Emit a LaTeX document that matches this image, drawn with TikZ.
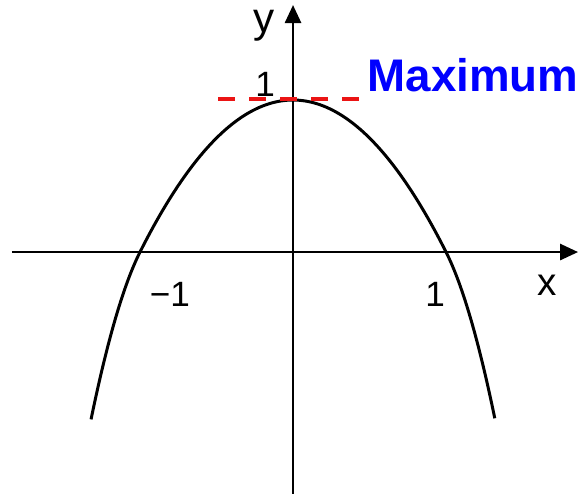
\documentclass[tikz,border=0pt]{standalone}
\usepackage{fontspec}
\setmainfont{Liberation Sans}
\usepackage{xcolor}
\usetikzlibrary{arrows.meta}
\usetikzlibrary{math}
\definecolor{mblue}{RGB}{0,0,255}
\definecolor{mred}{RGB}{235,20,20}

\begin{document}
\begin{tikzpicture}[x=3.06cm,y=3.04cm,
  axis/.style={line width=1.5pt,-{Triangle[length=0.36cm,width=0.32cm]}},
  curve/.style={line width=1.7pt},
  lbl/.style={inner sep=0pt,font=\fontsize{20}{24}\selectfont}]
\tikzmath{
\W = 1.32;
}
\useasboundingbox (-1.915,-1.618) rectangle (1.895,1.658);

\coordinate (xl) at (-1.837,0);
\coordinate (xr) at (1.863,0);
\coordinate (yb) at (0,-1.59);
\coordinate (yt) at (0,1.625);

\draw[axis] (xl) -- (xr);
\draw[axis] (yb) -- (yt);

\draw[curve] plot[domain=-\W:\W,samples=121,smooth]
  (\x,{1-\x*\x-3.5*(max(abs(\x)-1,0))^2});

\coordinate (ml) at (-0.49,1.007);
\coordinate (mr) at (0.438,1.007);
\node[lbl] (one) at (-0.183,1.10) {1};
\draw[color=mred,line width=2.6pt,dash pattern=on 0.34cm off 0.28cm] (ml) -- (mr);

\node[lbl,font=\fontsize{24}{28}\selectfont] (ylab) at (-0.19,1.487) {y};
\node[lbl,font=\fontsize{22}{26}\selectfont] (xlab) at (1.66,-0.217) {x};
\node[lbl] (mone) at (-0.804,-0.276) {−1};
\node[lbl] (pone) at (0.928,-0.276) {1};
\node[inner sep=0pt,font=\fontsize{26}{30}\selectfont\bfseries,color=mblue] (max) at (1.176,1.164) {Maximum};

\end{tikzpicture}
\end{document}
